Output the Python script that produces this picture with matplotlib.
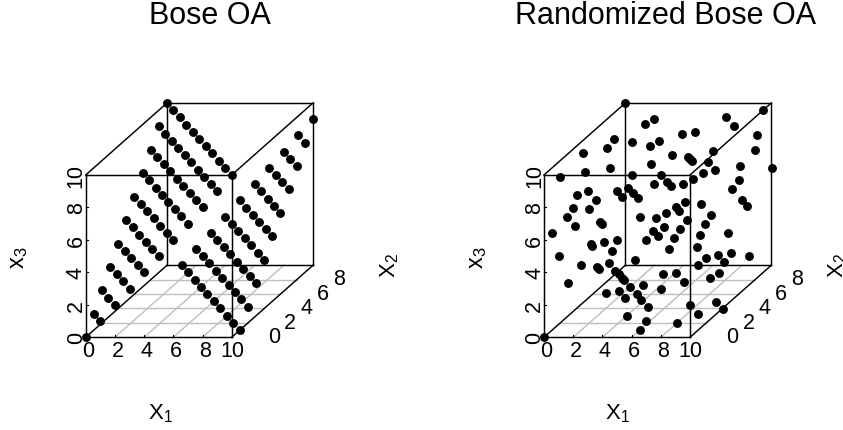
import matplotlib
matplotlib.use('Agg')
import matplotlib.pyplot as plt

plt.rcParams['font.family'] = ['Liberation Sans', 'DejaVu Sans']
plt.rcParams['mathtext.fontset'] = 'custom'
plt.rcParams['mathtext.rm'] = 'Liberation Sans'
plt.rcParams['mathtext.default'] = 'regular'

# Bose OA, one line per diagonal of the design
bose_x1 = [0,
           0, 1,
           0, 1, 2,
           0, 1, 2, 3,
           0, 1, 2, 3, 4,
           0, 1, 2, 3, 4, 5,
           0, 1, 2, 3, 4, 5, 6,
           0, 1, 2, 3, 4, 5, 6, 7,
           0, 1, 2, 3, 4, 5, 6, 7, 8,
           0, 1, 2, 3, 4, 5, 6, 7, 8, 9,
           0, 1, 2, 3, 4, 5, 6, 7, 8, 9, 10,
           1, 2, 3, 4, 5, 6, 7, 8, 9, 10,
           2, 3, 4, 5, 6, 7, 8, 9, 10,
           3, 4, 5, 6, 7, 8, 9, 10,
           4, 5, 6, 7, 8, 9, 10,
           5, 6, 7, 8, 9, 10,
           6, 7, 8, 9, 10,
           7, 8, 9, 10,
           8, 9, 10,
           9, 10,
           10]
bose_x2 = [0,
           1, 0,
           2, 1, 0,
           3, 2, 1, 0,
           4, 3, 2, 1, 0,
           5, 4, 3, 2, 1, 0,
           6, 5, 4, 3, 2, 1, 0,
           7, 6, 5, 4, 3, 2, 1, 0,
           8, 7, 6, 5, 4, 3, 2, 1, 0,
           9, 8, 7, 6, 5, 4, 3, 2, 1, 0,
           10, 9, 8, 7, 6, 5, 4, 3, 2, 1, 0,
           10, 9, 8, 7, 6, 5, 4, 3, 2, 1,
           10, 9, 8, 7, 6, 5, 4, 3, 2,
           10, 9, 8, 7, 6, 5, 4, 3,
           10, 9, 8, 7, 6, 5, 4,
           10, 9, 8, 7, 6, 5,
           10, 9, 8, 7, 6,
           10, 9, 8, 7,
           10, 9, 8,
           10, 9,
           10]
bose_x3 = [0,
           1, 1,
           2, 2, 2,
           3, 3, 3, 3,
           4, 4, 4, 4, 4,
           5, 5, 5, 5, 5, 5,
           6, 6, 6, 6, 6, 6, 6,
           7, 7, 7, 7, 7, 7, 7, 7,
           8, 8, 8, 8, 8, 8, 8, 8, 8,
           9, 9, 9, 9, 9, 9, 9, 9, 9, 9,
           10, 10, 10, 10, 10, 10, 10, 10, 10, 10, 10,
           0, 0, 0, 0, 0, 0, 0, 0, 0, 0,
           1, 1, 1, 1, 1, 1, 1, 1, 1,
           2, 2, 2, 2, 2, 2, 2, 2,
           3, 3, 3, 3, 3, 3, 3,
           4, 4, 4, 4, 4, 4,
           5, 5, 5, 5, 5,
           6, 6, 6, 6,
           7, 7, 7,
           8, 8,
           9]

# Randomized Bose OA: only the projected position
# on the x1 and x3 scales can be seen, the depth x2 can not
rand_px = [5.55, 15.02, 12.47, 13.01, 7.56, 6.89, 9.45, 10.34, 14.59, 4.79,
           4.34, 6.00, 7.24, 7.90, 14.45, 2.67, 8.79, 11.55, 9.84, 10.00,
           10.16, 11.23, 7.35, 13.45, 15.59, 2.79, 4.54, 11.69, 10.89, 6.00,
           8.01, 1.10, 10.23, 13.36, 7.56, 8.45, 8.68, 9.54, 12.90, 3.01,
           2.24, 3.56, 5.00, 5.32, 5.78, 6.12, 6.44, 13.54, 13.90, 10.78,
           9.68, 1.99, 3.11, 9.02, 9.22, 8.33, 11.44, 6.58, 7.67, 1.55,
           3.86, 4.00, 9.79, 11.00, 2.12, 8.22, 9.34, 7.44, 7.79, 0.55,
           12.58, 10.68, 8.88, 7.01, 4.11, 5.00, 3.20, 3.31, 10.46, 8.56,
           4.66, 12.79, 11.89, 1.00, 14.02, 11.12, 12.35, 6.23, 2.56, 4.45,
           10.57, 3.65, 3.77, 4.89, 5.11, 5.34, 5.46, 12.01, 9.02, 8.13,
           11.35, 9.57, 1.67, 6.78, 5.89, 8.01, 4.22, 5.11, 6.35, 6.67,
           5.57, 11.78, 10.00, 12.24, 7.12, 10.57, 5.66, 7.01, 9.13, 6.58,
           0.00]
rand_pz = [14.44, 14.00, 13.55, 13.00, 13.45, 13.12, 12.55, 12.67, 12.44, 12.22,
           11.66, 12.01, 11.79, 12.11, 11.54, 11.33, 11.23, 11.46, 11.11, 10.97,
           10.86, 10.78, 10.66, 10.55, 10.43, 10.21, 10.43, 10.33, 10.10, 10.00,
           10.00, 9.88, 9.77, 9.67, 9.45, 9.55, 9.32, 9.45, 9.12, 8.99,
           8.77, 8.44, 8.99, 8.67, 9.22, 8.89, 8.56, 8.44, 8.11, 8.21,
           8.32, 7.99, 7.89, 8.01, 7.78, 7.66, 7.54, 7.43, 7.33, 7.43,
           7.08, 7.00, 7.21, 6.98, 6.88, 6.78, 6.65, 6.53, 6.22, 6.43,
           6.43, 6.30, 6.10, 6.00, 5.87, 6.00, 5.75, 5.65, 5.54, 5.42,
           5.32, 5.22, 5.09, 4.99, 4.99, 4.87, 4.66, 4.76, 4.44, 4.56,
           4.44, 4.31, 4.21, 4.09, 3.88, 3.66, 3.53, 3.98, 3.98, 3.88,
           3.66, 3.43, 3.33, 3.20, 3.08, 2.98, 2.75, 2.87, 2.65, 2.32,
           2.42, 2.20, 1.97, 1.75, 1.87, 1.42, 1.31, 0.99, 0.86, 0.43,
           0.00]

x_ticks = [0, 2, 4, 6, 8, 10]
y_ticks = [0, 2, 4, 6, 8]
z_ticks = [0, 2, 4, 6, 8, 10]

# oblique projection of the box, same idea as scatterplot3d
DX = 0.557
DZ = 0.444


def project(x, y, z):
    return x + y * DX, z + y * DZ


def draw_box(ax):
    '''draw floor grid, box edges, ticks and tick labels'''
    grid_col = '#bebebe'
    for t in [2, 4, 6, 8]:
        xs, zs = project(t, 0, 0), project(t, 10, 0)
        ax.plot([xs[0], zs[0]], [xs[1], zs[1]], color=grid_col, lw=1.0, clip_on=False, zorder=1)
        xs, zs = project(0, t, 0), project(10, t, 0)
        ax.plot([xs[0], zs[0]], [xs[1], zs[1]], color=grid_col, lw=1.0, clip_on=False, zorder=1)

    edges = [((0, 0, 0), (10, 0, 0)), ((0, 0, 10), (10, 0, 10)),
             ((0, 0, 0), (0, 0, 10)), ((10, 0, 0), (10, 0, 10)),
             ((0, 10, 0), (0, 10, 10)), ((10, 10, 0), (10, 10, 10)),
             ((0, 10, 10), (10, 10, 10)), ((0, 10, 0), (10, 10, 0)),
             ((0, 0, 0), (0, 10, 0)), ((10, 0, 0), (10, 10, 0)),
             ((0, 0, 10), (0, 10, 10)), ((10, 0, 10), (10, 10, 10))]
    for a, b in edges:
        pa, pb = project(*a), project(*b)
        ax.plot([pa[0], pb[0]], [pa[1], pb[1]], color='black', lw=1.05, clip_on=False, zorder=2)

    for t in x_ticks:
        ax.plot([t, t], [0, 0.17], color='black', lw=0.8, clip_on=False, zorder=2)
        shift = 0.05 if t == 10 else 0.17
        ax.text(t + shift, -0.8, str(t), ha='center', va='center', fontsize=15.5)
    for t in z_ticks:
        ax.plot([0, 0.15], [t, t], color='black', lw=0.8, clip_on=False, zorder=2)
        ax.text(-0.65, t, str(t), ha='center', va='center', rotation=90, fontsize=15.5)
    for t in y_ticks:
        px, pz = project(10, t, 0)
        ax.text(px + 2.9, pz + 0.05, str(t), ha='center', va='center', fontsize=15.5)

    ax.set_xlim(0, 10 + 10 * DX)
    ax.set_ylim(0, 10 + 10 * DZ)
    ax.axis('off')


def make_axes(fig, left):
    w = (10 + 10 * DX) * 14.6
    h = (10 + 10 * DZ) * 16.23
    return fig.add_axes([left / 843, (431 - 338.3) / 431, w / 843, h / 431])


def main():
    fig = plt.figure(figsize=(8.43, 4.31), dpi=100)

    ax1 = make_axes(fig, 85.7)
    draw_box(ax1)
    bx, bz = [], []
    for a, b, c in zip(bose_x1, bose_x2, bose_x3):
        p = project(a, b, c)
        bx.append(p[0])
        bz.append(p[1])
    ax1.plot(bx, bz, 'o', color='black', ms=6.4, mew=0, clip_on=False, zorder=3)

    ax2 = make_axes(fig, 544.0)
    draw_box(ax2)
    ax2.plot(rand_px, rand_pz, 'o', color='black', ms=6.4, mew=0, clip_on=False, zorder=3)

    fig.text(210 / 843, 1 - 16 / 431, 'Bose OA', ha='center', va='center', fontsize=22)
    fig.text(666 / 843, 1 - 16 / 431, 'Randomized Bose OA', ha='center', va='center', fontsize=22)
    fig.text(160 / 843, 1 - 414 / 431, '$X_1$', ha='center', va='center', fontsize=16)
    fig.text(617 / 843, 1 - 414 / 431, '$X_1$', ha='center', va='center', fontsize=16)
    fig.text(19 / 843, 1 - 258 / 431, '$x_3$', ha='center', va='center', rotation=90, fontsize=17)
    fig.text(478 / 843, 1 - 258 / 431, '$x_3$', ha='center', va='center', rotation=90, fontsize=17)
    fig.text(390 / 843, 1 - 266 / 431, '$X_2$', ha='center', va='center', rotation=90, fontsize=16)
    fig.text(838 / 843, 1 - 266 / 431, '$X_2$', ha='center', va='center', rotation=90, fontsize=16)

    plt.savefig('out.png', dpi=100)
    plt.close()


if __name__ == '__main__':
    main()
